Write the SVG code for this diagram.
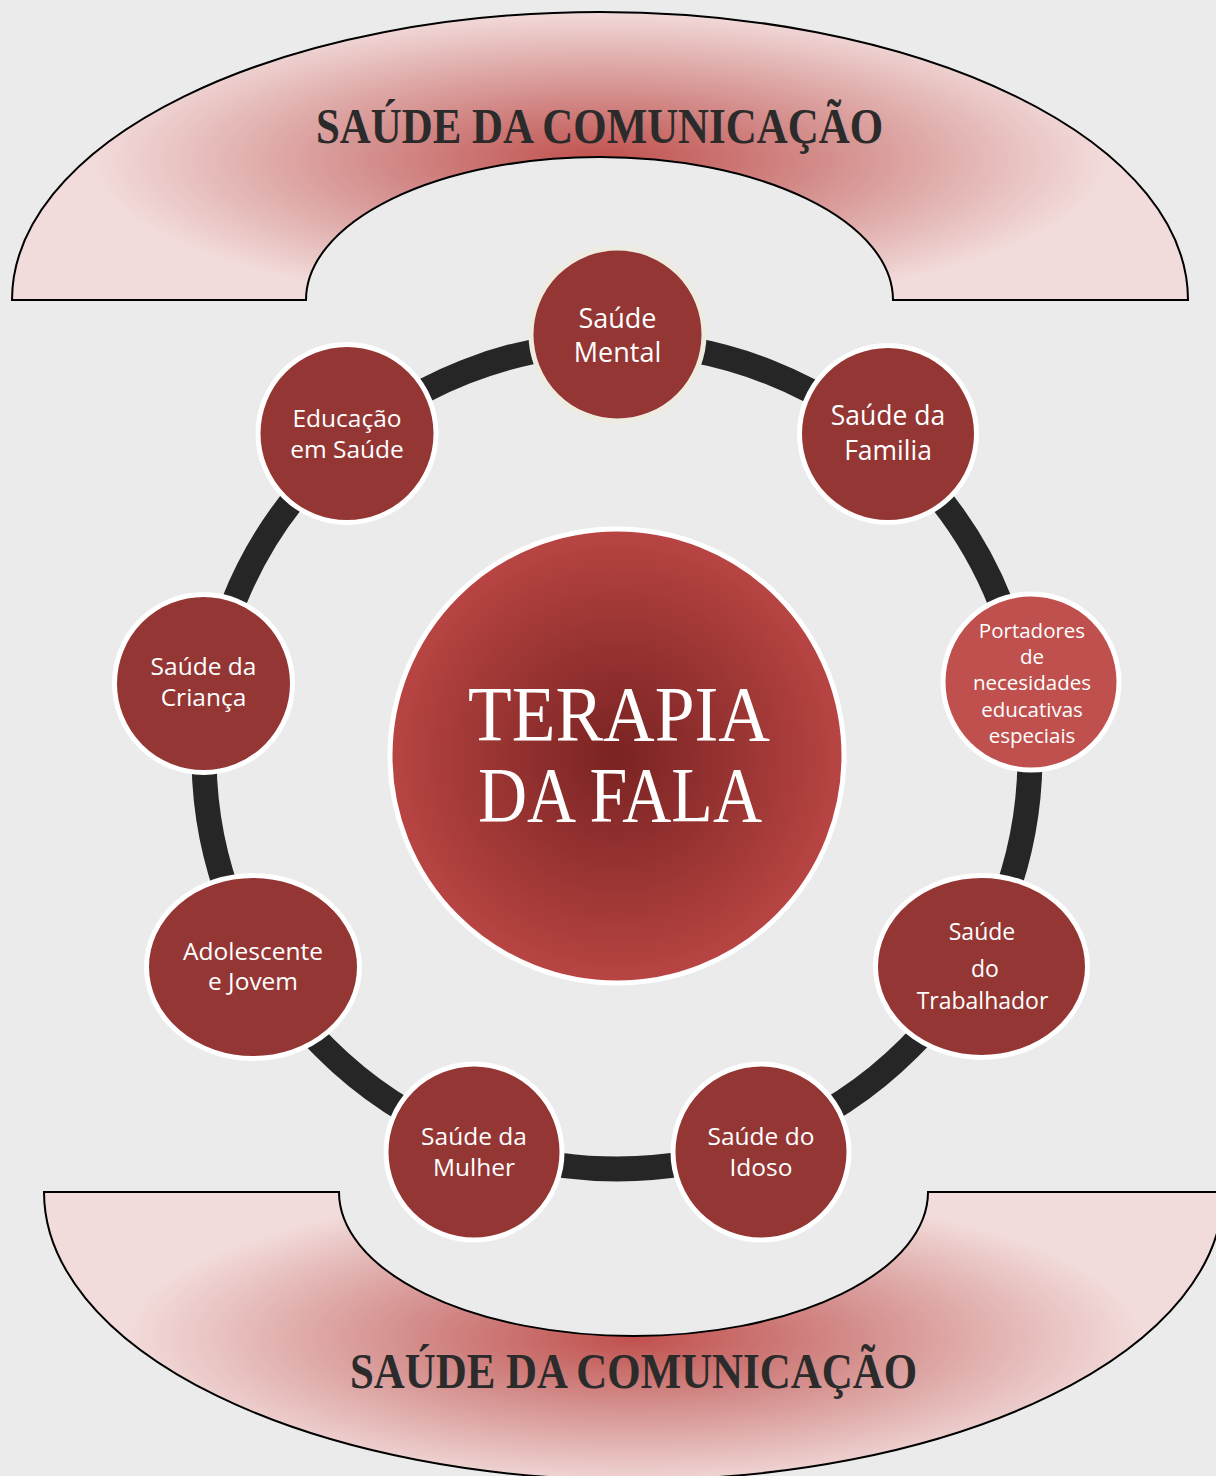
<svg xmlns="http://www.w3.org/2000/svg" width="1216" height="1476" viewBox="0 0 1216 1476">
  <defs>
    <radialGradient id="gTop" gradientUnits="userSpaceOnUse" cx="600" cy="160" r="150" gradientTransform="translate(600 160) scale(3.4 1) translate(-600 -160)">
      <stop offset="0" stop-color="#C0504D"/>
      <stop offset="0.45" stop-color="#D48F8D"/>
      <stop offset="1" stop-color="#F2DCDB"/>
    </radialGradient>
    <radialGradient id="gBot" gradientUnits="userSpaceOnUse" cx="634" cy="1338" r="150" gradientTransform="translate(634 1338) scale(3.4 1) translate(-634 -1338)">
      <stop offset="0" stop-color="#C0504D"/>
      <stop offset="0.45" stop-color="#D48F8D"/>
      <stop offset="1" stop-color="#F2DCDB"/>
    </radialGradient>
    <radialGradient id="gCenter" cx="0.5" cy="0.5" r="0.5">
      <stop offset="0" stop-color="#7A2322"/>
      <stop offset="0.55" stop-color="#9A3533"/>
      <stop offset="1" stop-color="#B84543"/>
    </radialGradient>
    <style>
      .arch { stroke: #000; stroke-width: 2; }
      .title { font-family: "Liberation Serif", serif; font-weight: bold; font-size: 50px; fill: #2B2B2B; }
      .node { fill: #943634; stroke: #FFFFFF; stroke-width: 5; }
      .lbl { font-family: "Open Sans", "Noto Sans", sans-serif; fill: #FFFFFF; text-anchor: middle; }
      .big { font-family: "Liberation Serif", serif; font-size: 79px; fill: #FFFFFF; }
    </style>
  </defs>
  <rect x="0" y="0" width="1216" height="1476" fill="#EBEBEB"/>

  <g id="arch-top">
    <path class="arch" fill="url(#gTop)" d="M 12 300 A 588 288 0 0 1 1188 300 L 893 300 A 293.5 143 0 0 0 306 300 Z"/>
    <text class="title" x="316" y="143" textLength="567" lengthAdjust="spacingAndGlyphs">SAÚDE DA COMUNICAÇÃO</text>
  </g>
  <g id="arch-bottom">
    <path class="arch" fill="url(#gBot)" d="M 44 1192 A 589.5 288 0 0 0 1223 1192 L 928 1192 A 294.5 144 0 0 1 339 1192 Z"/>
    <text class="title" x="350" y="1388" textLength="567" lengthAdjust="spacingAndGlyphs">SAÚDE DA COMUNICAÇÃO</text>
  </g>

  <g id="connectors">
    <circle cx="617" cy="756" r="413" fill="none" stroke="#262626" stroke-width="25"/>
  </g>

  <g id="center">
    <circle cx="617" cy="756" r="227" fill="url(#gCenter)" stroke="#FFFFFF" stroke-width="5"/>
    <text class="big" x="468" y="740" textLength="302" lengthAdjust="spacingAndGlyphs">TERAPIA</text>
    <text class="big" x="478" y="821" textLength="284" lengthAdjust="spacingAndGlyphs">DA FALA</text>
  </g>

  <g id="n-mental">
    <circle cx="617.5" cy="334.5" r="86.5" fill="#943634" stroke="#EEECE1" stroke-width="5"/>
    <text class="lbl" font-size="27"><tspan x="617.5" y="328">Saúde</tspan><tspan x="617.5" y="362">Mental</tspan></text>
  </g>
  <g id="n-familia">
    <circle class="node" cx="888" cy="434" r="88.5"/>
    <text class="lbl" font-size="26.5"><tspan x="888" y="425">Saúde da</tspan><tspan x="888" y="460">Familia</tspan></text>
  </g>
  <g id="n-portadores">
    <circle cx="1031" cy="682" r="88" fill="#C0504D" stroke="#FFFFFF" stroke-width="5"/>
    <text class="lbl" font-size="20.5"><tspan x="1032" y="638">Portadores</tspan><tspan x="1032" y="664">de</tspan><tspan x="1032" y="690">necesidades</tspan><tspan x="1032" y="717">educativas</tspan><tspan x="1032" y="743">especiais</tspan></text>
  </g>
  <g id="n-trabalhador">
    <ellipse class="node" cx="981.5" cy="966.5" rx="106" ry="91"/>
    <text class="lbl" font-size="23"><tspan x="982" y="940">Saúde</tspan><tspan x="985" y="977">do</tspan><tspan x="982.5" y="1009">Trabalhador</tspan></text>
  </g>
  <g id="n-idoso">
    <circle class="node" cx="761" cy="1152" r="88"/>
    <text class="lbl" font-size="24.5"><tspan x="761" y="1145">Saúde do</tspan><tspan x="761" y="1176">Idoso</tspan></text>
  </g>
  <g id="n-mulher">
    <circle class="node" cx="474" cy="1152" r="88"/>
    <text class="lbl" font-size="24.5"><tspan x="474" y="1145">Saúde da</tspan><tspan x="474" y="1176">Mulher</tspan></text>
  </g>
  <g id="n-adolescente">
    <ellipse class="node" cx="253" cy="967" rx="106.5" ry="91.5"/>
    <text class="lbl" font-size="24.5"><tspan x="253" y="960">Adolescente</tspan><tspan x="253" y="990">e Jovem</tspan></text>
  </g>
  <g id="n-crianca">
    <circle class="node" cx="203.5" cy="683.5" r="89"/>
    <text class="lbl" font-size="24.5"><tspan x="203.5" y="675">Saúde da</tspan><tspan x="203.5" y="706">Criança</tspan></text>
  </g>
  <g id="n-educacao">
    <circle class="node" cx="347" cy="433.5" r="89"/>
    <text class="lbl" font-size="24.5"><tspan x="347" y="427">Educação</tspan><tspan x="347" y="458">em Saúde</tspan></text>
  </g>
</svg>
